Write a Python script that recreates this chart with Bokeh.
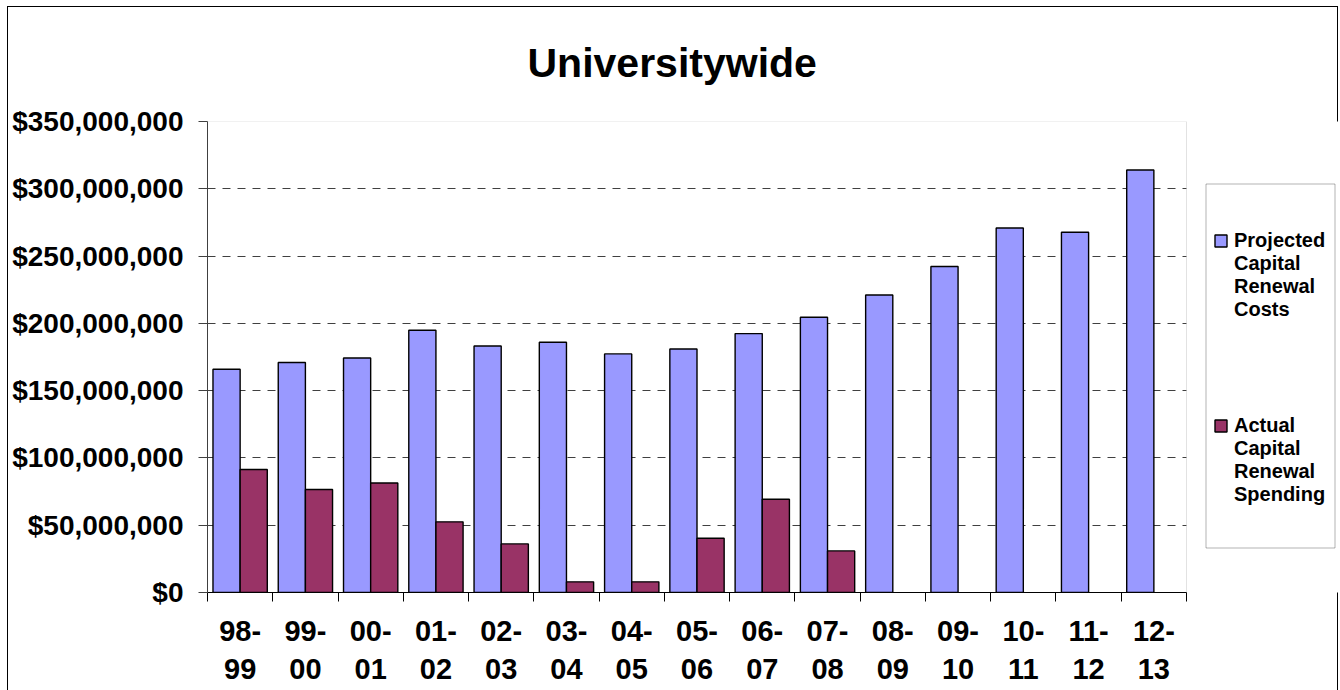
from bokeh.plotting import figure
from bokeh.models import (Range1d, FixedTicker, NumeralTickFormatter, Title, Legend,
                          LegendItem, ColumnDataSource, BoxAnnotation)
from bokeh.transform import dodge
from bokeh.embed import file_html
from bokeh.resources import INLINE

# ---- data (values in dollars) ----
categories = ["98-\n99", "99-\n00", "00-\n01", "01-\n02", "02-\n03", "03-\n04", "04-\n05",
              "05-\n06", "06-\n07", "07-\n08", "08-\n09", "09-\n10", "10-\n11", "11-\n12", "12-\n13"]
projected_m = [165.9, 170.9, 174.3, 194.9, 183.2, 186.0, 177.3, 181.0, 192.4, 204.5,
               221.1, 242.2, 270.9, 267.7, 314.0]
actual_m = [91.4, 76.5, 81.4, 52.5, 36.1, 7.9, 7.9, 40.3, 69.3, 30.9]
y_ticks_m = [0, 50, 100, 150, 200, 250, 300, 350]
series_names = ["Projected\nCapital\nRenewal\nCosts", "Actual\nCapital\nRenewal\nSpending"]
title_text = "Universitywide"

FONT = "Liberation Sans"
BLUE = "#9999FF"
MAROON = "#993366"

W, H = 1340, 690
LEFT, TOP, BOTTOM = 207, 121, 98
PLOT_W = 979          # width of the bar area in pixels
n = len(categories)
centers = [i + 0.5 for i in range(n)]
proj_src = ColumnDataSource(dict(x=centers, top=[v * 1e6 for v in projected_m]))
act_src = ColumnDataSource(dict(x=centers[:len(actual_m)], top=[v * 1e6 for v in actual_m]))

# outer chart frame drawn as page CSS behind a transparent canvas border
frame_css = ("linear-gradient(#000,#000) 7px 6px/1px 690px no-repeat, "
             "linear-gradient(#000,#000) 7px 6px/1331px 1px no-repeat, "
             "linear-gradient(#000,#000) 1337px 6px/1px 690px no-repeat, #ffffff")

# the frame spans to the right edge so the legend can live inside it;
# the category axis covers only the first PLOT_W pixels
x_end = n * (W - 1 - LEFT) / PLOT_W
p = figure(width=W, height=H, output_backend="svg", toolbar_location=None,
           x_range=Range1d(0, x_end), y_range=Range1d(0, 350e6),
           min_border_left=LEFT, min_border_right=1, min_border_top=TOP, min_border_bottom=BOTTOM)
p.background_fill_color = "white"
p.border_fill_color = None
p.styles = {"background": frame_css}
p.outline_line_color = None

# plot-area border (gray)
p.add_layout(BoxAnnotation(left=0, right=n, bottom=0, top=350e6, fill_alpha=0,
                           line_color="#a0a0a0", line_width=1, level="underlay"))

bw = 0.416
r1 = p.vbar(x=dodge("x", -0.208, range=p.x_range), top="top", width=bw, source=proj_src,
            fill_color=BLUE, line_color="black", line_width=1.4)
r2 = p.vbar(x=dodge("x", 0.208, range=p.x_range), top="top", width=bw, source=act_src,
            fill_color=MAROON, line_color="black", line_width=1.4)

# y axis
p.yaxis.ticker = FixedTicker(ticks=[v * 1e6 for v in y_ticks_m])
p.yaxis.formatter = NumeralTickFormatter(format="$0,0")
p.yaxis.major_label_text_font = FONT
p.yaxis.major_label_text_font_style = "bold"
p.yaxis.major_label_text_font_size = "28px"
p.yaxis.major_label_text_color = "black"
p.yaxis.major_tick_out = 9
p.yaxis.major_tick_in = 0
p.yaxis.minor_tick_out = 0
p.yaxis.minor_tick_in = 0
p.yaxis.major_label_standoff = 15
p.yaxis.axis_line_color = "#404040"
p.yaxis.major_tick_line_color = "#404040"

# x axis: labels at category centres, ticks at category boundaries
p.xaxis.bounds = (0, n)
p.xaxis.ticker = FixedTicker(ticks=centers, minor_ticks=list(range(n + 1)))
p.xaxis.major_label_overrides = {c: lab for c, lab in zip(centers, categories)}
p.xaxis.major_label_text_font = FONT
p.xaxis.major_label_text_font_style = "bold"
p.xaxis.major_label_text_font_size = "29px"
p.xaxis.major_label_text_color = "black"
p.xaxis.major_tick_out = 0
p.xaxis.major_tick_in = 0
p.xaxis.minor_tick_out = 9
p.xaxis.minor_tick_in = 0
p.xaxis.minor_tick_line_color = "black"
p.xaxis.major_label_standoff = 13
p.xaxis.axis_line_color = "black"

# grid
p.xgrid.visible = False
p.ygrid.ticker = FixedTicker(ticks=[v * 1e6 for v in y_ticks_m[1:-1]])
p.ygrid.cross_bounds = (0, n)
p.ygrid.grid_line_color = "#404040"
p.ygrid.grid_line_dash = "8 7"
p.ygrid.grid_line_width = 1

# title
p.add_layout(Title(text=title_text, align="left", offset=320, standoff=71,
                   text_font=FONT, text_font_style="bold", text_font_size="41px",
                   text_color="black"), "above")

# legend box (drawn separately so its size can match the original)
p.add_layout(BoxAnnotation(left=1205.5, right=1334.5, top=183.5, bottom=547.5,
                           left_units="canvas", right_units="canvas",
                           top_units="canvas", bottom_units="canvas",
                           fill_color="white", fill_alpha=1,
                           line_color="black", line_width=1, level="annotation"))

# legend entries: leading spacer lines put each swatch level with the first word
spacer = " \n \n \n"
legend = Legend(items=[LegendItem(label=spacer + series_names[0], renderers=[r1]),
                       LegendItem(label=spacer + series_names[1], renderers=[r2])],
                location=(997, 77), orientation="vertical",
                padding=9, spacing=24, margin=0,
                label_text_font=FONT, label_text_font_style="bold", label_text_font_size="20px",
                label_text_color="black", label_standoff=6,
                glyph_width=15, glyph_height=15,
                border_line_alpha=0, background_fill_alpha=0)
p.add_layout(legend, "center")

open("out.html", "w").write(file_html(p, INLINE))
